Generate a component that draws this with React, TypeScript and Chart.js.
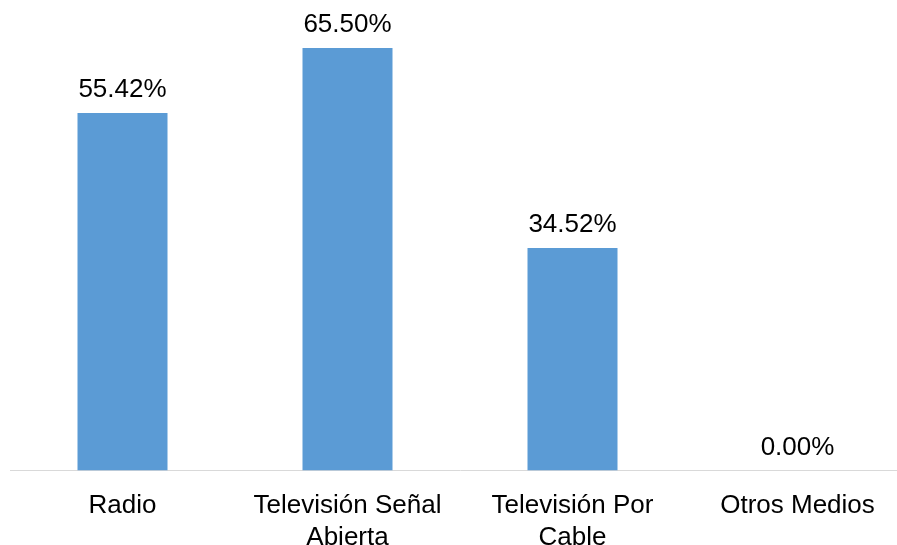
import React, { useEffect, useRef } from "react";
import { Chart, registerables } from "chart.js";

Chart.register(...registerables);

const categories: (string | string[])[] = [
  "Radio",
  ["Televisión Señal", "Abierta"],
  ["Televisión Por", "Cable"],
  "Otros Medios",
];
const values: number[] = [55.42, 65.5, 34.52, 0.0];
const valueLabels: string[] = ["55.42%", "65.50%", "34.52%", "0.00%"];

const FONT = "'Liberation Sans', Arial, sans-serif";

const labelPlugin = {
  id: "barLabels",
  afterDatasetsDraw(chart: any) {
    const ctx = chart.ctx;
    const meta = chart.getDatasetMeta(0);
    ctx.save();
    ctx.font = `26px ${FONT}`;
    ctx.fillStyle = "#000000";
    ctx.textAlign = "center";
    ctx.textBaseline = "alphabetic";
    meta.data.forEach((bar: any, i: number) => {
      ctx.fillText(valueLabels[i], bar.x, bar.y - 16);
    });
    ctx.restore();
  },
};

export default function App() {
  const ref = useRef<HTMLCanvasElement | null>(null);
  useEffect(() => {
    const chart = new Chart(ref.current!, {
      type: "bar",
      data: {
        labels: categories,
        datasets: [
          {
            data: values,
            backgroundColor: "#5b9bd5",
            borderWidth: 0,
            categoryPercentage: 1,
            barPercentage: 0.4,
          },
        ],
      },
      plugins: [labelPlugin],
      options: {
        responsive: false,
        animation: false,
        maintainAspectRatio: false,
        layout: { padding: { left: 10, right: 2, top: 19, bottom: 0 } },
        plugins: { legend: { display: false }, tooltip: { enabled: false } },
        scales: {
          y: { display: false, min: 0, max: 70 },
          x: {
            grid: { display: false, drawTicks: false },
            border: { display: true, color: "#d9d9d9", width: 1 },
            ticks: {
              color: "#000000",
              font: { family: FONT, size: 26, lineHeight: 1.2 },
              padding: 20,
              maxRotation: 0,
              autoSkip: false,
            },
          },
        },
      },
    });
    return () => chart.destroy();
  }, []);
  return (
    <div style={{ position: "fixed", left: 0, top: 0, width: 897, height: 545, overflow: "hidden", background: "#fff" }}>
      <canvas ref={ref} width={912} height={573} style={{ width: 912, height: 573, display: "block" }} />
    </div>
  );
}
